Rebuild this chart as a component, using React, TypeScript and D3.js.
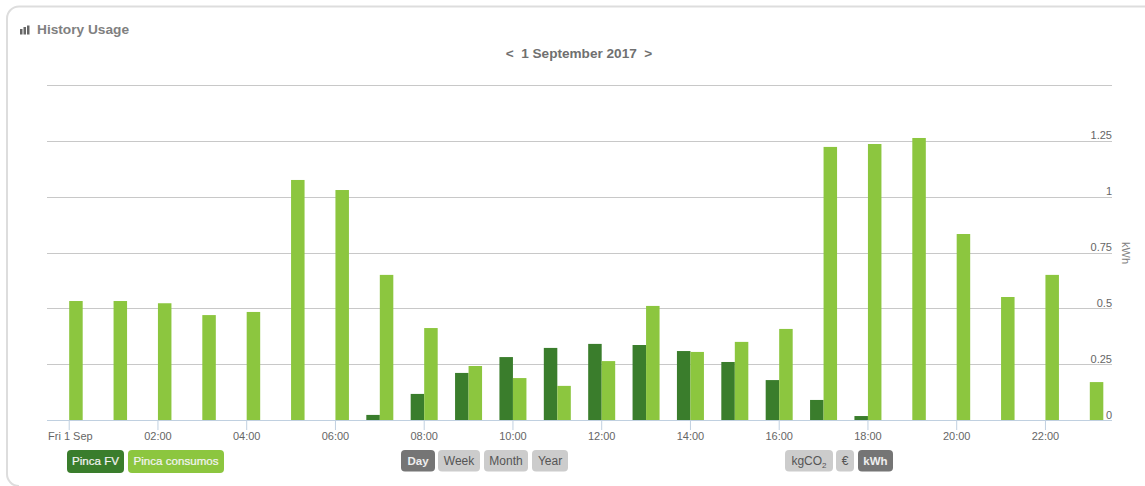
import React from "react";
import * as d3 from "d3";

const hours = d3.range(24);
const pincaFV = [0, 0, 0, 0, 0, 0, 0, 0.025, 0.119, 0.213, 0.284, 0.325, 0.343, 0.338, 0.311, 0.262, 0.181, 0.092, 0.02, 0, 0, 0, 0, 0];
const pincaConsumos = [0.535, 0.535, 0.525, 0.472, 0.486, 1.077, 1.032, 0.652, 0.414, 0.244, 0.19, 0.155, 0.266, 0.513, 0.307, 0.352, 0.41, 1.225, 1.238, 1.265, 0.835, 0.553, 0.652, 0.172];
const yTicks = [0, 0.25, 0.5, 0.75, 1, 1.25, 1.5];
const xTicks = [0, 2, 4, 6, 8, 10, 12, 14, 16, 18, 20, 22];
const xTickLabels = ["Fri 1 Sep", "02:00", "04:00", "06:00", "08:00", "10:00", "12:00", "14:00", "16:00", "18:00", "20:00", "22:00"];
const seriesButtons = [
  { label: "Pinca FV", x: 67, w: 57, fill: "#3a7d2c" },
  { label: "Pinca consumos", x: 128, w: 96, fill: "#8cc63f" },
];
const rangeButtons = [
  { label: "Day", x: 401, w: 34, on: true },
  { label: "Week", x: 438, w: 42, on: false },
  { label: "Month", x: 484, w: 44, on: false },
  { label: "Year", x: 532, w: 36, on: false },
];
const unitButtons = [
  { label: "kgCO", sub: "2", x: 785, w: 48, on: false },
  { label: "€", x: 836, w: 18, on: false },
  { label: "kWh", x: 858, w: 35, on: true },
];

const FONT = "'Liberation Sans', Arial, sans-serif";
const GREY = "#666666";

export default function App() {
  const x = d3.scaleLinear().domain([-0.5, 23.5]).range([47, 1112]);
  const y = d3.scaleLinear().domain([0, 1.5]).range([420.5, 85.5]);
  const barW = 13.5;
  const toggle = (b: any) => (
    <g key={b.label}>
      <rect x={b.x} y={450} width={b.w} height={21.5} rx={4} fill={b.on ? "#757575" : "#cccccc"} />
      <text x={b.x + b.w / 2} y={465} textAnchor="middle" fontSize={b.on ? 11.5 : 12} fill={b.on ? "#eeeeee" : "#555555"} fontWeight={b.on ? 700 : 400}>
        {b.label}
        {b.sub ? <tspan fontSize={8} dy={3}>{b.sub}</tspan> : null}
      </text>
    </g>
  );
  return (
    <svg width={1145} height={486} style={{ position: "absolute", left: 0, top: 0, fontFamily: FONT, background: "#fff" }}>
      <path d="M1145,6.5 H19 a12,12 0 0 0 -12,12 V474 a12,12 0 0 0 12,12" fill="none" stroke="#dddddd" strokeWidth={2} />
      {/* header */}
      <g fill="#666">
        <rect x={20} y={29} width={2.5} height={5.5} />
        <rect x={23.5} y={27} width={2.5} height={7.5} />
        <rect x={27} y={25.5} width={2.5} height={9} />
      </g>
      <text x={37} y={33.5} fontSize={13.7} fontWeight={700} fill="#808080">History Usage</text>
      <text x={579} y={58} textAnchor="middle" fontSize={13.6} fontWeight={700} fill="#707070" xmlSpace="preserve">{"<  1 September 2017  >"}</text>
      {/* grid */}
      {yTicks.filter((t) => t > 0).map((t) => (
        <line key={t} x1={47} x2={1112} y1={Math.floor(y(t)) + 0.5} y2={Math.floor(y(t)) + 0.5} stroke="#c8c8c8" strokeWidth={1} />
      ))}
      {/* bars */}
      {hours.map((h) => (
        <g key={h}>
          {pincaFV[h] > 0 && <rect x={x(h) - barW} y={y(pincaFV[h])} width={barW} height={y(0) - y(pincaFV[h])} fill="#3a7d2c" />}
          <rect x={x(h)} y={y(pincaConsumos[h])} width={barW} height={y(0) - y(pincaConsumos[h])} fill="#8cc63f" />
        </g>
      ))}
      {/* x axis */}
      <line x1={47} x2={1112} y1={420.5} y2={420.5} stroke="#c0d0e0" />
      {xTicks.map((t, i) => (
        <g key={t}>
          <line x1={x(t)} x2={x(t)} y1={420.5} y2={430} stroke="#c0d0e0" />
          <text x={i === 0 ? 48 : x(t)} y={440} textAnchor={i === 0 ? "start" : "middle"} fontSize={11} fill={GREY}>{xTickLabels[i]}</text>
        </g>
      ))}
      {/* y labels */}
      {yTicks.filter((t) => t < 1.5).map((t) => (
        <text key={t} x={1112} y={y(t) - 2} textAnchor="end" fontSize={11} fill={GREY}>{t}</text>
      ))}
      <text transform="translate(1122,253) rotate(90)" textAnchor="middle" fontSize={11} fill="#808080">kWh</text>
      {/* buttons */}
      {seriesButtons.map((b) => (
        <g key={b.label}>
          <rect x={b.x} y={450} width={b.w} height={23} rx={4} fill={b.fill} />
          <text x={b.x + b.w / 2} y={465} textAnchor="middle" fontSize={11.6} fontWeight={400} stroke="#f4f4f4" strokeWidth={0.2} fill="#f4f4f4">{b.label}</text>
        </g>
      ))}
      {rangeButtons.map(toggle)}
      {unitButtons.map(toggle)}
    </svg>
  );
}
